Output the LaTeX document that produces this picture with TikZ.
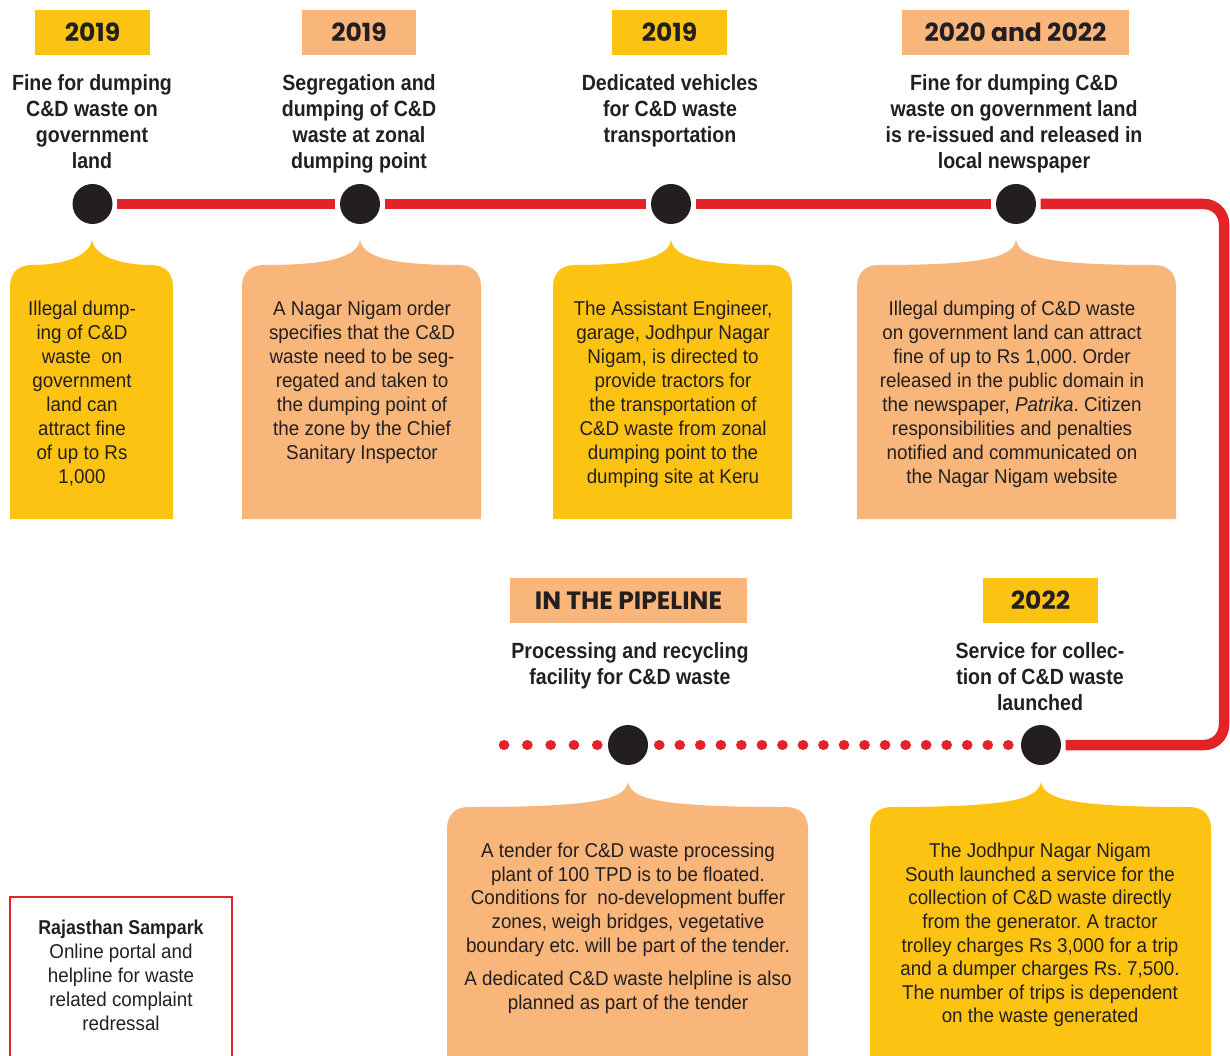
\documentclass[tikz,border=0pt]{standalone}
\usepackage{fontspec}
\setmainfont{Liberation Sans}
\newfontfamily\bodyf[FakeStretch=0.94]{Liberation Sans}
\newfontfamily\titlef[FakeStretch=0.89]{Liberation Sans}
\newfontfamily\yearf{Poppins}
\definecolor{cyellow}{RGB}{253,195,18}
\definecolor{corange}{RGB}{249,182,122}
\definecolor{tlred}{RGB}{228,34,42}
\definecolor{ink}{RGB}{35,31,32}
\newcommand\calloutshape[6]{%
  \fill[#6] (#1,#4) -- (#1,#3+22) .. controls (#1,#3+8) and (#1+8,#3) .. (#1+22,#3)
    .. controls (#5-30,#3) and (#5-3,#3-8) .. (#5,#3-25)
    .. controls (#5+3,#3-8) and (#5+30,#3) .. (#2-22,#3)
    .. controls (#2-8,#3) and (#2,#3+8) .. (#2,#3+22) -- (#2,#4) -- cycle;}
\tikzset{
  dot/.style={circle, fill=ink, minimum size=40pt, inner sep=0pt},
  redline/.style={draw=tlred, line width=10.5pt},
  dotline/.style={draw=tlred, line width=10.6pt, line cap=round},
  yearbox/.style={minimum height=45pt, inner sep=0pt, text=ink,
    font=\yearf\bfseries\fontsize{25}{30}\selectfont},
  title/.style={align=center, anchor=north, inner sep=0pt, text=ink,
    font=\titlef\bfseries\fontsize{22}{26}\selectfont},
  body/.style={align=center, anchor=north, inner sep=0pt, text=ink,
    font=\bodyf\frenchspacing\fontsize{20}{24}\selectfont},
  bodytight/.style={body, font=\bodyf\frenchspacing\fontsize{20}{23.6}\selectfont},
  rsframe/.style={draw=tlred, line width=2pt},
}
\begin{document}
\begin{tikzpicture}[x=1pt,y=-1pt]
\useasboundingbox (0,0) rectangle (1230,1056);

% callout shapes
\calloutshape{10}{173}{265}{519}{92}{cyellow}
\calloutshape{242}{481}{265}{519}{360}{corange}
\calloutshape{553}{792}{265}{519}{671}{cyellow}
\calloutshape{857}{1176}{265}{519}{1016}{corange}
\calloutshape{447}{808}{807}{1056}{628}{corange}
\calloutshape{870}{1211}{807}{1056}{1041}{cyellow}

% year labels
\node[yearbox, fill=cyellow, minimum width=115pt] (y1) at (92.5,32.5) {2019};
\node[yearbox, fill=corange, minimum width=114pt] (y2) at (359,32.5) {2019};
\node[yearbox, fill=cyellow, minimum width=115pt] (y3) at (669.5,32.5) {2019};
\node[yearbox, fill=corange, minimum width=227pt] (y4) at (1015.5,32.5) {2020 and 2022};
\node[yearbox, fill=corange, minimum width=237pt] (y5) at (628.5,600.5) {IN THE PIPELINE};
\node[yearbox, fill=cyellow, minimum width=115pt] (y6) at (1040.5,600.5) {2022};

% titles
\node[title] (t1) at (92,72) {\strut Fine for dumping\\C\&D waste on\\government\\land};
\node[title] (t2) at (359,72) {\strut Segregation and\\dumping of C\&D\\waste at zonal\\dumping point};
\node[title] (t3) at (670,72) {\strut Dedicated vehicles\\for C\&D waste\\transportation};
\node[title] (t4) at (1014,72) {\strut Fine for dumping C\&D\\waste on government land\\is re-issued and released in\\local newspaper};
\node[title] (t5) at (630,640) {\strut Processing and recycling\\facility for C\&D waste};
\node[title] (t6) at (1040,640) {\strut Service for collec-\\tion of C\&D waste\\launched};

% timeline dots
\node[dot] (d1) at (92.5,204) {};
\node[dot] (d2) at (360,204) {};
\node[dot] (d3) at (671,204) {};
\node[dot] (d4) at (1016,204) {};
\node[dot] (d5) at (628,745) {};
\node[dot] (d6) at (1041,745) {};

% red connectors
\coordinate (ctr) at (1224,204);
\coordinate (cbr) at (1224,745);
\coordinate (dl) at (504,745);
\draw[redline] ([xshift=4.5pt]d1.east) -- ([xshift=-4.5pt]d2.west);
\draw[redline] ([xshift=4.5pt]d2.east) -- ([xshift=-4.5pt]d3.west);
\draw[redline] ([xshift=4.5pt]d3.east) -- ([xshift=-4.5pt]d4.west);
\draw[redline, rounded corners=20pt] ([xshift=4.5pt]d4.east) -- (ctr) -- (cbr) -- ([xshift=4.5pt]d6.east);
\draw[dotline, dash pattern=on 0.1pt off 23.2pt] (dl) -- (d5.west);
\draw[dotline, dash pattern=on 0.1pt off 20.43pt] ([xshift=11pt]d5.east) -- (d6.west);

% callout texts
\node[body] (b1) at (82,298) {\strut Illegal dump-\\ing of C\&D\\waste~ on\\government\\land can\\attract fine\\of up to Rs\\1,000};
\node[body] (b2) at (362,298) {\strut A Nagar Nigam order\\specifies that the C\&D\\waste need to be seg-\\regated and taken to\\the dumping point of\\the zone by the Chief\\Sanitary Inspector};
\node[body] (b3) at (673,298) {\strut The Assistant Engineer,\\garage, Jodhpur Nagar\\Nigam, is directed to\\provide tractors for\\the transportation of\\C\&D waste from zonal\\dumping point to the\\dumping site at Keru};
\node[body] (b4) at (1012,298) {\strut Illegal dumping of C\&D waste\\on government land can attract\\fine of up to Rs 1,000. Order\\released in the public domain in\\the newspaper, \textit{Patrika}. Citizen\\responsibilities and penalties\\notified and communicated on\\the Nagar Nigam website};
\node[bodytight] (b5) at (628,841) {\strut A tender for C\&D waste processing\\plant of 100 TPD is to be floated.\\Conditions for~ no-development buffer\\zones, weigh bridges, vegetative\\boundary etc. will be part of the tender.\\[10pt]A dedicated C\&D waste helpline is also\\planned as part of the tender};
\node[bodytight] (b6) at (1040,841) {\strut The Jodhpur Nagar Nigam\\South launched a service for the\\collection of C\&D waste directly\\from the generator. A tractor\\trolley charges Rs 3,000 for a trip\\and a dumper charges Rs. 7,500.\\The number of trips is dependent\\on the waste generated};

% Rajasthan Sampark box
\draw[rsframe] (10,1057) -- (10,897) -- (232,897) -- (232,1057);
\node[body] (rs) at (121,917) {\strut{\titlef\bfseries Rajasthan Sampark}\\Online portal and\\helpline for waste\\related complaint\\redressal};
\end{tikzpicture}
\end{document}
